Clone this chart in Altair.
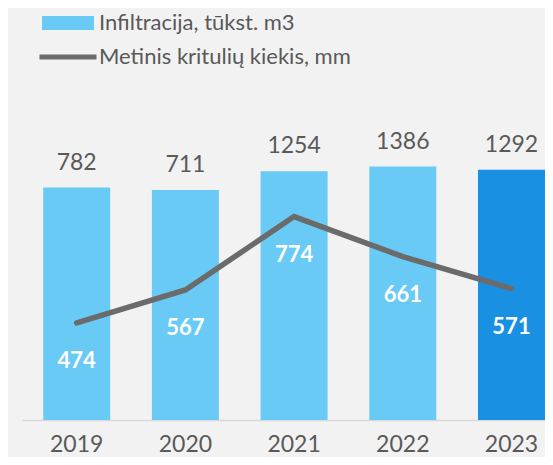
import altair as alt
import pandas as pd

years = ["2019", "2020", "2021", "2022", "2023"]
infiltracija = [782, 711, 1254, 1386, 1292]
krituliai = [474, 567, 774, 661, 571]
bar_name = "Infiltracija, tūkst. m3"
line_name = "Metinis kritulių kiekis, mm"
bar_group = [bar_name, bar_name, bar_name, bar_name, "2023"]

df = pd.DataFrame({
    "year": years,
    "infil": infiltracija,
    "precip": krituliai,
    "group": bar_group,
    "series": [line_name] * len(years),
})

FONT = "Lato"
GRAY = "#595959"
BAR_MIN, BAR_MAX = -5900, 3300
LINE_MIN, LINE_MAX = 200, 1103

x = alt.X(
    "year:N", sort=years, title=None,
    scale=alt.Scale(paddingInner=0.3836, paddingOuter=0.0975, align=1.0),
    axis=alt.Axis(labelAngle=0, labelFont=FONT, labelFontSize=23, labelColor=GRAY,
                  ticks=False, tickSize=0, domainColor="#d9d9d9", domainWidth=1.5,
                  labelPadding=31, labelBaseline="alphabetic", grid=False),
)

bar_scale = alt.Scale(domain=[BAR_MIN, BAR_MAX], nice=False, zero=False)
line_scale = alt.Scale(domain=[LINE_MIN, LINE_MAX], nice=False, zero=False)

bars = alt.Chart(df).mark_bar().encode(
    x=x,
    y=alt.Y("infil:Q", scale=bar_scale, axis=None),
    y2=alt.datum(BAR_MIN),
    fill=alt.Fill(
        "group:N",
        scale=alt.Scale(domain=[bar_name, "2023"], range=["#69cbf5", "#1a90e3"]),
        legend=alt.Legend(
            values=[bar_name], title=None, orient="none", legendX=20, legendY=-103,
            symbolType="M-1,-0.27H1V0.27H-1Z", symbolSize=2704, symbolStrokeWidth=0,
            symbolOpacity=1, labelLimit=400,
            labelFont=FONT, labelFontSize=22, labelColor=GRAY, labelOffset=5, padding=0,
        ),
    ),
)

bar_labels = alt.Chart(df).mark_text(
    dy=-18, baseline="alphabetic", font=FONT, fontSize=23, color=GRAY
).encode(
    x=x,
    y=alt.Y("infil:Q", scale=bar_scale, axis=None),
    text=alt.Text("infil:Q"),
)

line = alt.Chart(df).mark_line(strokeWidth=5.5, strokeCap="round", strokeJoin="miter").encode(
    x=x,
    y=alt.Y("precip:Q", scale=line_scale, axis=None),
    stroke=alt.Stroke(
        "series:N",
        scale=alt.Scale(domain=[line_name], range=["#6b6b6b"]),
        legend=alt.Legend(
            title=None, orient="none", legendX=15, legendY=-74,
            symbolType="M-1,0H1", symbolSize=3249, symbolStrokeWidth=5, labelLimit=400,
            labelFont=FONT, labelFontSize=22, labelColor=GRAY, labelOffset=0, padding=0,
        ),
    ),
)

line_labels = alt.Chart(df).mark_text(
    dy=45, baseline="alphabetic", font=FONT, fontSize=22, fontWeight="bold", color="white"
).encode(
    x=x,
    y=alt.Y("precip:Q", scale=line_scale, axis=None),
    text=alt.Text("precip:Q"),
)

chart = alt.layer(bars, bar_labels, line, line_labels).resolve_scale(
    y="independent", fill="independent", stroke="independent"
).properties(
    width=523, height=320,
    autosize=alt.AutoSizeParams(type="none"),
    padding={"left": 14, "top": 92, "right": 0, "bottom": 37},
    background="#f2f2f2",
).configure_view(stroke=None)

chart.save("out.html", embed_options={"renderer": "svg", "actions": False})
